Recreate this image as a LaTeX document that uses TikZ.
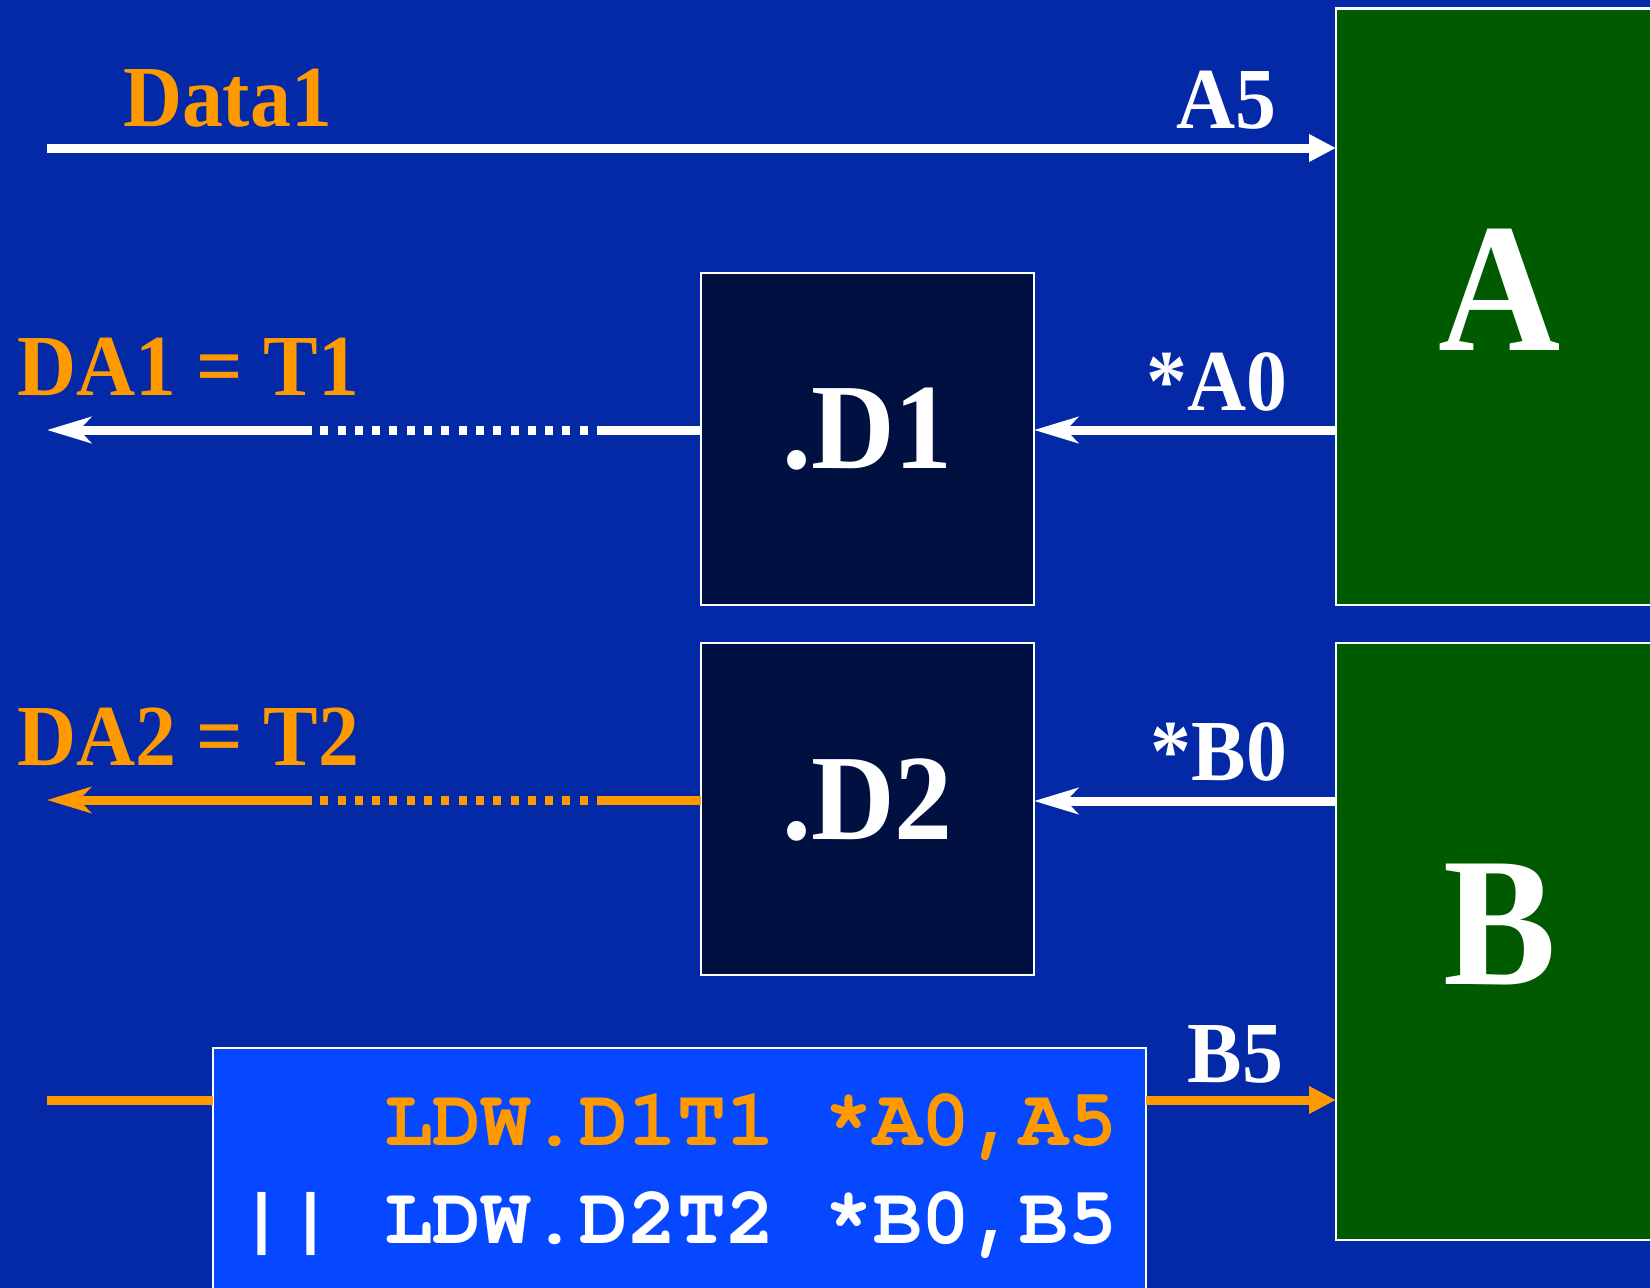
\documentclass[tikz,border=0pt]{standalone}
\usepackage{fontspec}
\setmainfont{Liberation Serif}
\newfontfamily\codefont{TeX Gyre Cursor}
\usetikzlibrary{arrows.meta}
\definecolor{bg}{RGB}{3,41,166}
\definecolor{navybox}{RGB}{0,16,64}
\definecolor{greenbox}{RGB}{0,90,0}
\definecolor{codebox}{RGB}{5,72,255}
\definecolor{orng}{RGB}{255,153,0}
\tikzset{
  unitbox/.style={draw=white, line width=2.5pt, fill=greenbox, inner sep=0pt, outer sep=0pt},
  dbox/.style={draw=white, line width=2.5pt, fill=navybox, inner sep=0pt, outer sep=0pt},
  cbox/.style={draw=white, line width=2.5pt, fill=codebox, inner sep=0pt, outer sep=0pt},
  wire/.style={line width=9pt},
  arrR/.style={wire, -{Triangle[length=27pt,width=26pt]}},
  arrL/.style={wire, -{Stealth[length=44pt,width=26pt,inset=12pt]}},
  dotline/.style={wire, dash pattern=on 8pt off 9.3pt},
  lbl/.style={inner sep=0pt, outer sep=0pt, xscale=0.94, font=\bfseries\fontsize{87}{92}\selectfont},
  big/.style={inner sep=0pt, outer sep=0pt, xscale=0.95, font=\bfseries\fontsize{122}{130}\selectfont, text=white},
  huge/.style={inner sep=0pt, outer sep=0pt, xscale=0.92, font=\bfseries\fontsize{184}{190}\selectfont, text=white},
  code/.style={inner sep=0pt, outer sep=0pt, font=\codefont\bfseries\fontsize{81.5}{90}\selectfont}
}
\begin{document}
\begin{tikzpicture}[x=1pt,y=-1pt]
\fill[bg] (0,0) rectangle (1650,1288);
\useasboundingbox (0,0) rectangle (1650,1288);
\clip (0,0) rectangle (1650,1288);

% boxes
\node[unitbox, minimum width=330pt, minimum height=596.6pt] (boxA) at (1501,306.7) {};
\node[unitbox, minimum width=330pt, minimum height=597pt] (boxB) at (1501,941.5) {};
\node[dbox, minimum width=333pt, minimum height=332pt] (d1) at (867.5,439) {};
\node[dbox, minimum width=333pt, minimum height=332pt] (d2) at (867.5,809) {};
\node[cbox, minimum width=933pt, minimum height=260pt] (code) at (679.5,1178) {};

% labels in boxes
\node[huge, anchor=base] (labA) at (1500,350) {A};
\node[huge, anchor=base] (labB) at (1500,984) {B};
\node[big, anchor=base] (labD1) at (867.5,468) {.D1};
\node[big, anchor=base] (labD2) at (867.5,839) {.D2};

% coordinates for free ends
\coordinate (dataStart) at (47,148);
\coordinate (da1End) at (47,430);
\coordinate (da2End) at (47,800);
\coordinate (ldwStart) at (47,1100);
\coordinate (a0) at (1336,430);
\coordinate (b0) at (1336,801);
\coordinate (dot1a) at (605,430);
\coordinate (dot1b) at (312,430);
\coordinate (dot2a) at (605,800);
\coordinate (dot2b) at (312,800);

% connectors
\draw[arrR, white] (dataStart) -- (dataStart -| boxA.west);
\draw[arrL, white] (a0) -- (a0 -| d1.east);
\draw[arrL, white] (b0) -- (b0 -| d2.east);

\draw[wire, white] (d1.west |- dot1a) -- (dot1a);
\draw[dotline, white] (dot1a) -- (dot1b);
\draw[arrL, white] (dot1b) -- (da1End);

\draw[wire, orng] (d2.west |- dot2a) -- (dot2a);
\draw[dotline, orng] (dot2a) -- (dot2b);
\draw[arrL, orng] (dot2b) -- (da2End);

\draw[wire, orng] (ldwStart) -- (ldwStart -| code.west);
\draw[arrR, orng] (ldwStart -| code.east) -- (ldwStart -| boxB.west);

% outside labels
\node[lbl, text=orng, anchor=base west] (tData) at (123,126) {Data1};
\node[lbl, text=white, anchor=base east] (tA5) at (1276,128) {A5};
\node[lbl, text=orng, anchor=base west] (tDA1) at (17,395) {DA1 = T1};
\node[lbl, text=white, anchor=base east] (tA0) at (1287,410) {*A0};
\node[lbl, text=orng, anchor=base west] (tDA2) at (17,765) {DA2 = T2};
\node[lbl, text=white, anchor=base east] (tB0) at (1287,780) {*B0};
\node[lbl, text=white, anchor=base east] (tB5) at (1283,1082) {B5};

% code
\node[code, text=orng, anchor=base west] (c1) at (384,1145) {LDW.D1T1 *A0,A5};
\node[code, text=white, anchor=base west] (c2) at (384,1243) {LDW.D2T2 *B0,B5};
\node[code, text=white, anchor=base east] (cpar) at (335,1243) {||};
\end{tikzpicture}
\end{document}
